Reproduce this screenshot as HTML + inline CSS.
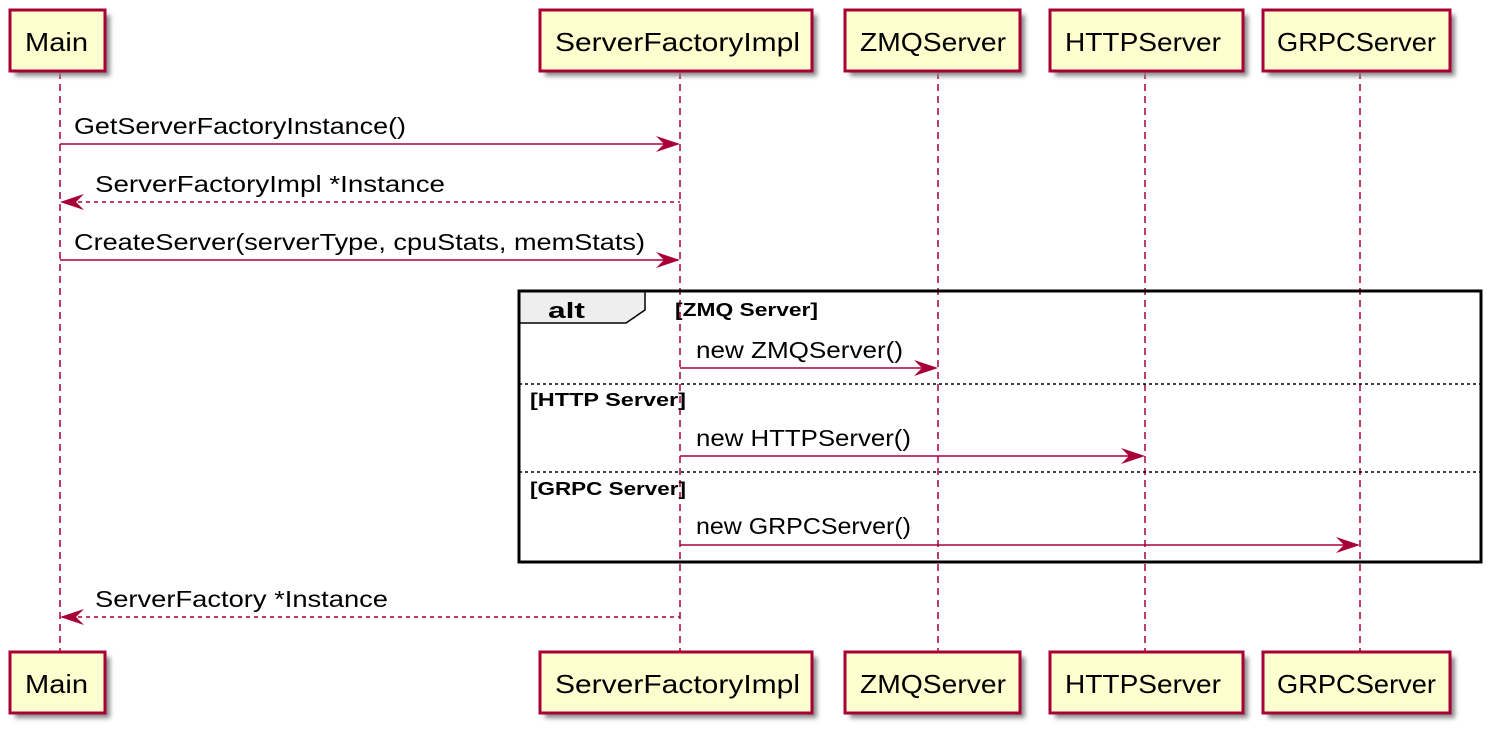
<!DOCTYPE html>
<html><head><style>body{margin:0;background:#fff}svg{display:block}</style></head><body>
<svg width="1505" height="738" xmlns="http://www.w3.org/2000/svg" font-family="Liberation Sans, DejaVu Sans, sans-serif">
<defs><filter id="sh" x="-20%" y="-20%" width="150%" height="160%"><feGaussianBlur stdDeviation="2.5"/></filter></defs>
<g stroke="#A80036" stroke-width="1.5" stroke-dasharray="7,5">
<line x1="60" y1="72" x2="60" y2="652"/><line x1="680" y1="72" x2="680" y2="652"/><line x1="938" y1="72" x2="938" y2="652"/><line x1="1145" y1="72" x2="1145" y2="652"/><line x1="1360" y1="72" x2="1360" y2="652"/>
</g>
<g fill="#888" filter="url(#sh)">
<rect x="15" y="15" width="95" height="61"/><rect x="545" y="15" width="272" height="61"/><rect x="850" y="15" width="175" height="61"/><rect x="1055" y="15" width="193" height="61"/><rect x="1268" y="15" width="187" height="61"/>
<rect x="15" y="657" width="95" height="61"/><rect x="545" y="657" width="272" height="61"/><rect x="850" y="657" width="175" height="61"/><rect x="1055" y="657" width="193" height="61"/><rect x="1268" y="657" width="187" height="61"/>
</g>
<g fill="#FEFECE" stroke="#A80036" stroke-width="3">
<rect x="10" y="10" width="95" height="61"/><rect x="540" y="10" width="272" height="61"/><rect x="845" y="10" width="175" height="61"/><rect x="1050" y="10" width="193" height="61"/><rect x="1263" y="10" width="187" height="61"/>
<rect x="10" y="652" width="95" height="61"/><rect x="540" y="652" width="272" height="61"/><rect x="845" y="652" width="175" height="61"/><rect x="1050" y="652" width="193" height="61"/><rect x="1263" y="652" width="187" height="61"/>
</g>
<g font-size="26" fill="#000" lengthAdjust="spacingAndGlyphs">
<text x="25" y="51" textLength="63" lengthAdjust="spacingAndGlyphs">Main</text><text x="555" y="51" textLength="245" lengthAdjust="spacingAndGlyphs">ServerFactoryImpl</text><text x="860" y="51" textLength="146" lengthAdjust="spacingAndGlyphs">ZMQServer</text><text x="1065" y="51" textLength="156" lengthAdjust="spacingAndGlyphs">HTTPServer</text><text x="1277" y="51" textLength="159" lengthAdjust="spacingAndGlyphs">GRPCServer</text>
<text x="25" y="693" textLength="63" lengthAdjust="spacingAndGlyphs">Main</text><text x="555" y="693" textLength="245" lengthAdjust="spacingAndGlyphs">ServerFactoryImpl</text><text x="860" y="693" textLength="146" lengthAdjust="spacingAndGlyphs">ZMQServer</text><text x="1065" y="693" textLength="156" lengthAdjust="spacingAndGlyphs">HTTPServer</text><text x="1277" y="693" textLength="159" lengthAdjust="spacingAndGlyphs">GRPCServer</text>
</g>
<path d="M519,291 L645,291 L645,310 L626,323 L519,323 Z" fill="#EEEEEE" stroke="#000" stroke-width="1.5"/>
<rect x="519" y="291" width="962" height="271" fill="none" stroke="#000" stroke-width="3"/>
<text x="548" y="318" font-size="22" font-weight="bold" textLength="37" lengthAdjust="spacingAndGlyphs">alt</text>
<g font-size="18" font-weight="bold"><text x="675" y="316" textLength="143" lengthAdjust="spacingAndGlyphs">[ZMQ Server]</text><text x="530" y="406" textLength="156" lengthAdjust="spacingAndGlyphs">[HTTP Server]</text><text x="530" y="495" textLength="156" lengthAdjust="spacingAndGlyphs">[GRPC Server]</text></g>
<g stroke="#000" stroke-width="1.5" stroke-dasharray="3,3"><line x1="519" y1="384" x2="1481" y2="384"/><line x1="519" y1="472" x2="1481" y2="472"/></g>
<g stroke="#A80036" stroke-width="1.5" fill="none">
<line x1="60" y1="144" x2="678" y2="144"/><line x1="62" y1="202" x2="680" y2="202" stroke-dasharray="4,4"/>
<line x1="60" y1="260" x2="678" y2="260"/><line x1="680" y1="368" x2="936" y2="368"/>
<line x1="680" y1="456" x2="1143" y2="456"/><line x1="680" y1="545" x2="1358" y2="545"/>
<line x1="62" y1="617" x2="680" y2="617" stroke-dasharray="4,4"/>
</g>
<g fill="#A80036">
<path d="M680,144 L656,136 L664,144 L656,152Z"/><path d="M60,202 L84,194 L76,202 L84,210Z"/>
<path d="M680,260 L656,252 L664,260 L656,268Z"/><path d="M938,368 L914,360 L922,368 L914,376Z"/>
<path d="M1145,456 L1121,448 L1129,456 L1121,464Z"/><path d="M1360,545 L1336,537 L1344,545 L1336,553Z"/>
<path d="M60,617 L84,609 L76,617 L84,625Z"/>
</g>
<g font-size="23" fill="#000">
<text x="74" y="134" textLength="332" lengthAdjust="spacingAndGlyphs">GetServerFactoryInstance()</text><text x="95" y="192" textLength="350" lengthAdjust="spacingAndGlyphs">ServerFactoryImpl *Instance</text>
<text x="74" y="250" textLength="571" lengthAdjust="spacingAndGlyphs">CreateServer(serverType, cpuStats, memStats)</text><text x="696" y="358" textLength="207" lengthAdjust="spacingAndGlyphs">new ZMQServer()</text>
<text x="696" y="446" textLength="215" lengthAdjust="spacingAndGlyphs">new HTTPServer()</text><text x="696" y="534" textLength="215" lengthAdjust="spacingAndGlyphs">new GRPCServer()</text>
<text x="95" y="607" textLength="293" lengthAdjust="spacingAndGlyphs">ServerFactory *Instance</text>
</g>
</svg>
</body></html>
